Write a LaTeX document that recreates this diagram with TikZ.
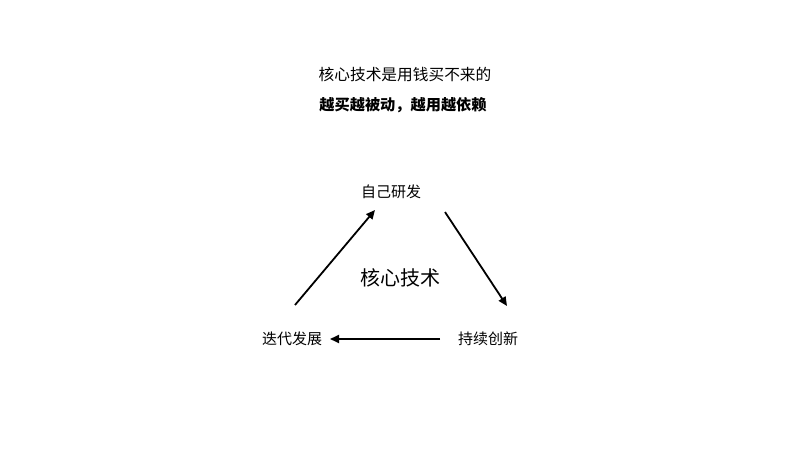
\documentclass[tikz,border=0pt]{standalone}
\usepackage{fontspec}
\setmainfont{Noto Sans CJK SC}
\usetikzlibrary{arrows.meta,calc,positioning}
\tikzset{
	lbl/.style={inner sep=0pt,font=\fontsize{15bp}{18bp}\selectfont},
	core/.style={inner sep=0pt,font=\fontsize{20bp}{24bp}\selectfont},
	ar/.style={line width=1.8bp,-{Triangle[length=9bp,width=8bp]}}
}
\begin{document}
\begin{tikzpicture}[x=1bp,y=-1bp]
	\useasboundingbox (0,0) rectangle (800,450);
	\node[lbl,font=\fontsize{15.7bp}{18bp}\selectfont] (title) at (405,75) {核心技术是用钱买不来的};
	\node[lbl,font=\fontsize{15.2bp}{18bp}\selectfont\bfseries] (sub) at (403,105) {越买越被动，越用越依赖};
	\node[lbl] (self) at (391,192) {自己研发};
	\node[lbl] (cont) at (488,339) {持续创新};
	\node[lbl] (iter) at (292,339) {迭代发展};
	\node[core] (tech) at (400,278) {核心技术};
	% cycle
	\draw[ar] ($(iter)+(3,-34)$) -- ($(self)+(-16,18)$);
	\draw[ar] ($(self)+(54,20)$) -- ($(cont)+(19,-33)$);
	\draw[ar] ($(cont)+(-48,0)$) -- ($(iter)+(38,0)$);
\end{tikzpicture}
\end{document}
